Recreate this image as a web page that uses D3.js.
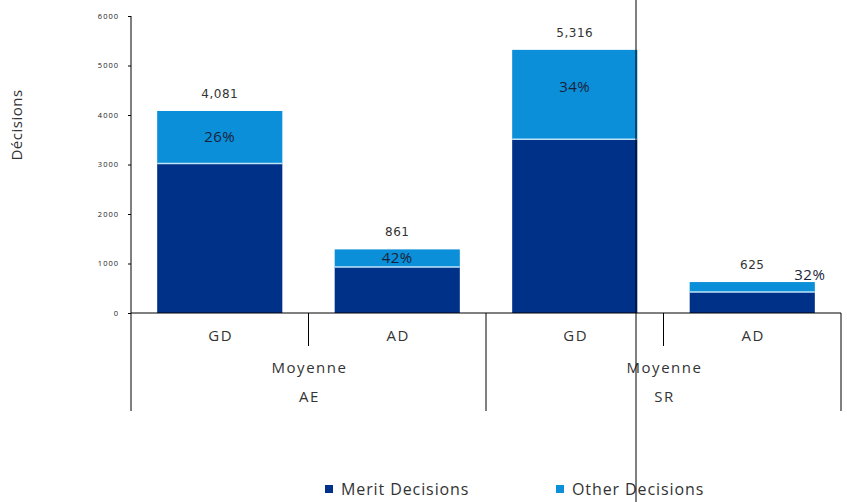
<!DOCTYPE html>
<head>
  <style>
    body { margin: 0; background: #fff; }
    text { fill: #333; }
  </style>
<title>Décisions</title>
</head>
<body>
<script src="https://cdn.jsdelivr.net/npm/d3@7"></script>
<script>
  // data
  var categories = ['AE GD', 'AE AD', 'SR GD', 'SR AD'];
  var subLabels = ['GD', 'AD', 'GD', 'AD'];
  var groups = ['AE', 'SR'];
  var groupMid = ['Moyenne', 'Moyenne'];
  var merit = [3020, 930, 3510, 425];
  var other = [1061, 355, 1806, 200];
  var totalLabels = ['4,081', '861', '5,316', '625'];
  var pctLabels = ['26%', '42%', '34%', '32%'];
  var yTicks = [0, 1000, 2000, 3000, 4000, 5000, 6000];
  var seriesNames = ['Merit Decisions', 'Other Decisions'];

  var width = 847, height = 502;
  var colors = ['#003189', '#0a8fd8'];

  var svg = d3.select('body').append('svg')
    .attr('width', width)
    .attr('height', height);

  var x = d3.scaleBand().domain(categories).range([131, 841]);
  var xGroup = d3.scaleBand().domain(groups).range([131, 841]);
  var y = d3.scaleLinear().domain([0, 6000]).range([313, 16]);

  var barW = x.bandwidth() * 0.705;
  var barOff = (x.bandwidth() - barW) / 2;

  // bars
  var g = svg.append('g').attr('id', 'bars');
  categories.forEach(function (c, i) {
    var x0 = x(c) + barOff;
    g.append('rect')
      .attr('x', x0).attr('width', barW)
      .attr('y', y(merit[i])).attr('height', y(0) - y(merit[i]))
      .attr('fill', colors[0]);
    g.append('rect')
      .attr('x', x0).attr('width', barW)
      .attr('y', y(merit[i] + other[i])).attr('height', y(merit[i]) - y(merit[i] + other[i]))
      .attr('fill', colors[1]);
    // thin light seam between segments
    g.append('line')
      .attr('x1', x0).attr('x2', x0 + barW)
      .attr('y1', y(merit[i])).attr('y2', y(merit[i]))
      .attr('stroke', '#bfe3f7').attr('stroke-width', 1.5);

    // total on top
    svg.append('text')
      .attr('x', x0 + barW / 2)
      .attr('y', y(merit[i] + other[i]) - 13)
      .attr('text-anchor', 'middle')
      .attr('font-family', 'DejaVu Sans')
      .attr('font-size', 12)
      .attr('letter-spacing', 0.5)
      .text(totalLabels[i]);

    // percentage of other decisions
    var segH = y(merit[i]) - y(merit[i] + other[i]);
    var px = x0 + barW / 2, py = (y(merit[i]) + y(merit[i] + other[i])) / 2 + 5;
    if (segH < 14) { px = x0 + barW - 5; py = y(merit[i] + other[i]) - 2; }
    if (segH > 60) { py = y(merit[i] + other[i]) + 42; }
    svg.append('text')
      .attr('x', px).attr('y', py)
      .attr('text-anchor', 'middle')
      .attr('font-family', 'Open Sans')
      .attr('font-size', 15)
      .attr('letter-spacing', 0.5)
      .style('fill', '#1a1f3a')
      .text(pctLabels[i]);
  });

  // y axis
  var yAxis = d3.axisLeft(y).tickValues(yTicks).tickSize(3).tickFormat(d3.format('d'));
  var ya = svg.append('g')
    .attr('id', 'y_axis')
    .attr('transform', 'translate(131,0)')
    .call(yAxis);
  ya.select('.domain').remove();
  ya.selectAll('line').attr('stroke', '#000');
  ya.selectAll('text')
    .attr('font-family', 'Open Sans')
    .attr('font-size', 7.5)
    .attr('letter-spacing', 1)
    .attr('x', -12)
    .style('fill', '#222');

  svg.append('line')
    .attr('x1', 131).attr('x2', 131).attr('y1', 16).attr('y2', 411)
    .attr('stroke', '#000');
  svg.append('line')
    .attr('x1', 131).attr('x2', 841).attr('y1', y(0)).attr('y2', y(0))
    .attr('stroke', '#000');

  // category dividers
  categories.forEach(function (c, i) {
    var xe = x(c) + x.bandwidth();
    var long = (i % 2 === 1);
    svg.append('line')
      .attr('x1', xe).attr('x2', xe)
      .attr('y1', y(0)).attr('y2', long ? 411 : 346)
      .attr('stroke', '#000');
    svg.append('text')
      .attr('x', x(c) + x.bandwidth() / 2 + 1)
      .attr('y', 341)
      .attr('text-anchor', 'middle')
      .attr('font-family', 'Open Sans')
      .attr('font-size', 15)
      .attr('letter-spacing', 1.5)
      .text(subLabels[i]);
  });

  groups.forEach(function (gName, i) {
    var cx = xGroup(gName) + xGroup.bandwidth() / 2 + 1;
    svg.append('text')
      .attr('x', cx).attr('y', 373)
      .attr('text-anchor', 'middle')
      .attr('font-family', 'Open Sans')
      .attr('font-size', 15)
      .attr('letter-spacing', 1.5)
      .text(groupMid[i]);
    svg.append('text')
      .attr('x', cx).attr('y', 402)
      .attr('text-anchor', 'middle')
      .attr('font-family', 'Open Sans')
      .attr('font-size', 15)
      .attr('letter-spacing', 1.5)
      .text(gName);
  });

  // y label
  svg.append('text')
    .attr('transform', 'translate(22,125) rotate(-90)')
    .attr('text-anchor', 'middle')
    .attr('font-family', 'Open Sans')
    .attr('font-size', 15)
    .attr('letter-spacing', 0.5)
    .text('Décisions');

  // legend
  var legX = [325, 556];
  seriesNames.forEach(function (s, i) {
    svg.append('rect')
      .attr('x', legX[i]).attr('y', 485)
      .attr('width', 8).attr('height', 8)
      .attr('fill', colors[i]);
    svg.append('text')
      .attr('x', legX[i] + 16).attr('y', 495)
      .attr('font-family', 'Open Sans')
      .attr('font-size', 16)
      .attr('letter-spacing', 0.9)
      .text(s);
  });

  // stray vertical line across the picture
  svg.append('line')
    .attr('x1', 636).attr('x2', 636).attr('y1', 0).attr('y2', height)
    .attr('stroke', '#000');
</script>
</body>
